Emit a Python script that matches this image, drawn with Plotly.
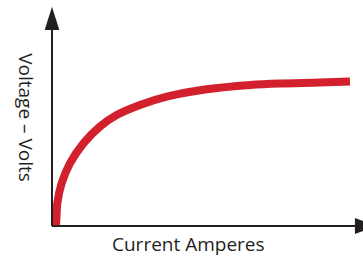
import plotly.graph_objects as go

# Data — current (0-100 scale) vs voltage (0-100 scale)
current = [1.0, 1.3, 1.7, 3.1, 5.8, 10.1, 15.4, 20.8, 28.3, 36.9, 49.7, 63.7, 73.3, 86.2, 95.8]
voltage = [0.0, 1.2, 10.4, 19.6, 28.8, 37.9, 45.6, 50.9, 55.5, 59.3, 62.7, 64.7, 65.4, 65.8, 66.3]

x_title = "Current Amperes"
y_title = "Voltage – Volts"

RED = "#d2202c"
AX = "#231f20"
TXT = "#231f20"

fig = go.Figure()
fig.add_trace(go.Scatter(
    x=current, y=voltage, mode="lines",
    line=dict(color=RED, width=8, shape="spline", smoothing=0.8),
    cliponaxis=False, hoverinfo="skip", showlegend=False,
))

shapes = [
    dict(type="line", xref="paper", yref="paper", x0=0, x1=0, y0=0, y1=0.92,
         line=dict(color=AX, width=2)),
    dict(type="line", xref="paper", yref="paper", x0=0, x1=0.98, y0=0, y1=0,
         line=dict(color=AX, width=2)),
    dict(type="path", xref="paper", yref="paper",
         path="M -0.0235 0.899 L 0.0235 0.899 L 0 1.006 Z",
         fillcolor=AX, line=dict(color=AX, width=0)),
    dict(type="path", xref="paper", yref="paper",
         path="M 0.974 0.0367 L 0.974 -0.0367 L 1.045 0 Z",
         fillcolor=AX, line=dict(color=AX, width=0)),
]

annotations = [
    dict(text=y_title, xref="paper", yref="paper", x=-0.084, y=0.495,
         textangle=90, showarrow=False, xanchor="center", yanchor="middle",
         font=dict(size=19, color=TXT, family="Open Sans")),
    dict(text=x_title, xref="paper", yref="paper", x=0.44, y=-0.145,
         showarrow=False, xanchor="center", yanchor="bottom", borderpad=0,
         font=dict(size=19, color=TXT, family="Open Sans")),
]

fig.update_layout(
    width=363, height=258,
    margin=dict(l=52, r=0, t=8, b=32),
    paper_bgcolor="white", plot_bgcolor="white",
    xaxis=dict(range=[0, 100], visible=False, fixedrange=True),
    yaxis=dict(range=[0, 100], visible=False, fixedrange=True),
    shapes=shapes, annotations=annotations,
)

fig.write_html("out.html", config={"displayModeBar": False},
               post_script="document.body.style.margin='0';document.body.style.overflow='hidden';")
